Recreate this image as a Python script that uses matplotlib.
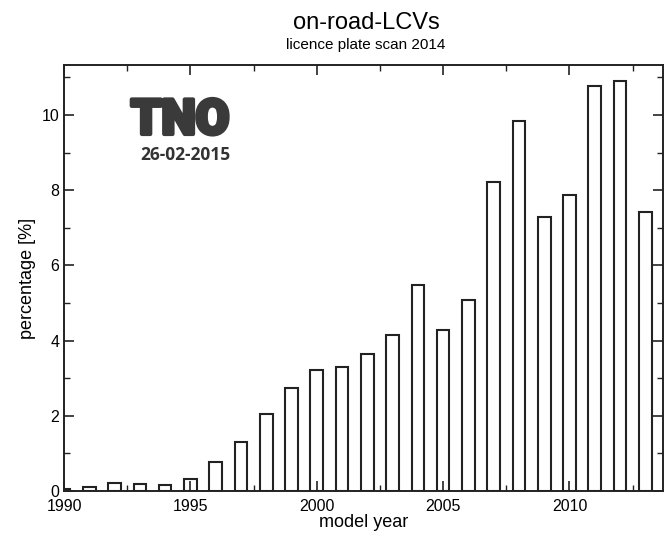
import matplotlib
matplotlib.use("Agg")
import matplotlib.pyplot as plt
import matplotlib.patheffects as pe
from matplotlib.ticker import MultipleLocator

years = list(range(1990, 2014))
percent = [0.05, 0.10, 0.20, 0.18, 0.15, 0.32, 0.77, 1.30, 2.05, 2.75,
           3.22, 3.30, 3.64, 4.15, 5.48, 4.28, 5.08, 8.22, 9.84, 7.30,
           7.87, 10.77, 10.90, 7.42]

plt.rcParams["font.family"] = ["Liberation Sans", "DejaVu Sans"]

fig = plt.figure(figsize=(6.65, 5.39), dpi=100)
ax = fig.add_axes([64 / 665, 1 - 491 / 539, 599 / 665, 426 / 539])

ax.bar(years, percent, width=0.5, facecolor="white", edgecolor="#222222", linewidth=1.5)

ax.set_xlim(1990, 2013.7)
ax.set_ylim(0, 11.33)
ax.xaxis.set_major_locator(MultipleLocator(5))
ax.xaxis.set_minor_locator(MultipleLocator(2.5))
ax.yaxis.set_major_locator(MultipleLocator(2))
ax.yaxis.set_minor_locator(MultipleLocator(1))
ax.tick_params(which="both", direction="in", top=True, right=True, color="#222222")
ax.tick_params(which="major", length=7, width=1.2, labelsize=11.5)
ax.tick_params(axis="x", which="major", pad=6)
ax.tick_params(which="minor", length=4, width=1.0)
for s in ax.spines.values():
    s.set_linewidth(1.4)
    s.set_color("#222222")

ax.set_xlabel("model year", fontsize=13, labelpad=0)
ax.set_ylabel("percentage [%]", fontsize=13, labelpad=4)

cx = 366 / 665
fig.text(cx, 1 - 23 / 539, "on-road-LCVs", ha="center", va="center", fontsize=17)
fig.text(cx, 1 - 45 / 539, "licence plate scan 2014", ha="center", va="center", fontsize=11)

# TNO stamp in the upper left
fig.text(180 / 665, 1 - 121 / 539, "TNO", ha="center", va="center", fontsize=35,
         fontweight="black", family=["Roboto", "DejaVu Sans"], color="#3a3a3a",
         path_effects=[pe.withStroke(linewidth=3, foreground="#3a3a3a")])
fig.text(185 / 665, 1 - 155 / 539, "26-02-2015", ha="center", va="center", fontsize=12.5,
         fontweight="bold", family=["Open Sans", "DejaVu Sans"], color="#333333")

fig.savefig("out.png", dpi=100)
